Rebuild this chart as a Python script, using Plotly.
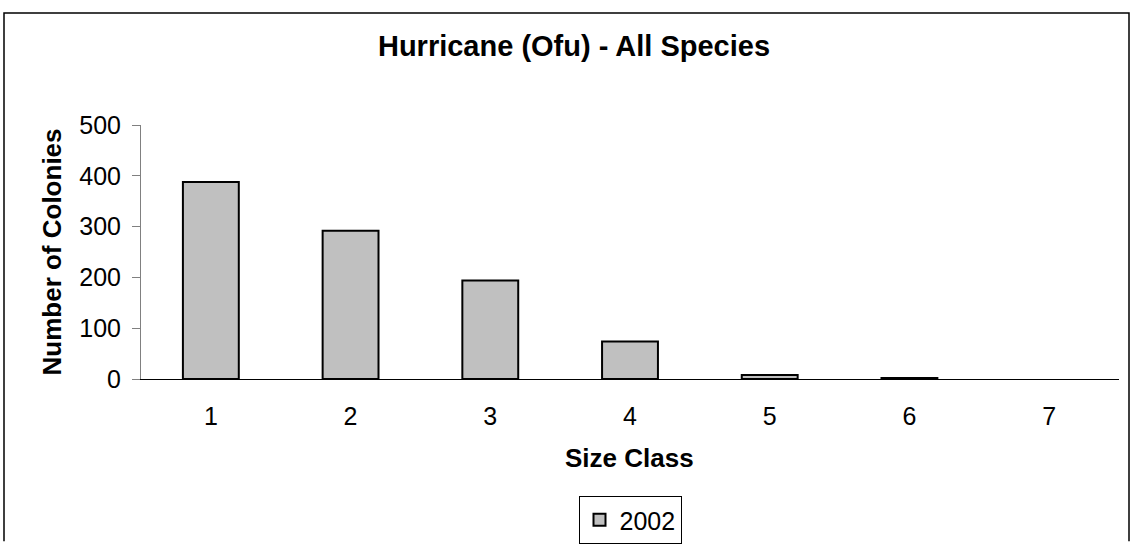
import plotly.graph_objects as go

categories = ["1", "2", "3", "4", "5", "6", "7"]
values_2002 = [388, 292, 194, 74, 8, 2, 0]
series_name = "2002"
y_ticks = [0, 100, 200, 300, 400, 500]

W, H = 1133, 556
L, R, T, B = 141, 14, 125, 168
pw, ph = W - L - R, H - T - B

def px_to_paper_x(px):
    return (px - L) / pw

def px_to_paper_y(py):
    return (H - B - py) / ph

FONT = "Arial, 'Liberation Sans', sans-serif"

outline_widths = [2 if v > 0 else 0 for v in values_2002]

fig = go.Figure()
fig.add_trace(go.Bar(
    x=categories, y=values_2002, name=series_name,
    marker=dict(color="#C0C0C0", line=dict(color="black", width=outline_widths)),
    width=0.4, showlegend=True, hoverinfo="skip",
))

fig.update_layout(
    width=W, height=H,
    margin=dict(l=L, r=R, t=T, b=B),
    paper_bgcolor="white", plot_bgcolor="white",
    font=dict(family=FONT, size=25, color="black"),
    title=dict(text="<b>Hurricane (Ofu) - All Species</b>", x=574 / W, xanchor="center",
               y=1 - 46 / H, yanchor="middle", font=dict(size=29, family=FONT)),
    showlegend=True,
    legend=dict(x=px_to_paper_x(630), xanchor="center", y=px_to_paper_y(534), yanchor="middle",
                bordercolor="black", borderwidth=1, bgcolor="white",
                font=dict(size=25, family=FONT), itemwidth=30, tracegroupgap=0),
)

fig.update_xaxes(
    type="category", showline=True, linecolor="black", linewidth=1,
    ticks="outside", ticklen=15, tickcolor="rgba(0,0,0,0)",
    tickfont=dict(size=25), showgrid=False, zeroline=False,
)
fig.update_yaxes(
    range=[0, 500], tickvals=y_ticks, showline=True, linecolor="#808080", linewidth=1,
    ticks="outside", ticklen=8, tickcolor="#808080", ticklabelstandoff=6,
    tickfont=dict(size=25), showgrid=False, zeroline=False,
)

fig.add_annotation(text="<b>Size Class</b>", xref="paper", yref="paper",
                   x=px_to_paper_x(629), y=px_to_paper_y(470), showarrow=False,
                   font=dict(size=26, family=FONT), xanchor="center", yanchor="middle")
fig.add_annotation(text="<b>Number of Colonies</b>", xref="paper", yref="paper",
                   x=px_to_paper_x(52), y=px_to_paper_y(257), showarrow=False, textangle=-90,
                   font=dict(size=26, family=FONT), xanchor="center", yanchor="middle")

bx0, bx1 = px_to_paper_x(4), px_to_paper_x(1129)
by_top, by_bot = px_to_paper_y(9), px_to_paper_y(556)
fig.add_shape(type="path", xref="paper", yref="paper",
              path=f"M{bx0},{by_bot} L{bx0},{by_top} L{bx1},{by_top} L{bx1},{by_bot}",
              line=dict(color="black", width=1.5), layer="below")

fig.write_html(
    "out.html",
    config={"displayModeBar": False, "staticPlot": True},
    post_script="document.body.style.margin='0';",
)
